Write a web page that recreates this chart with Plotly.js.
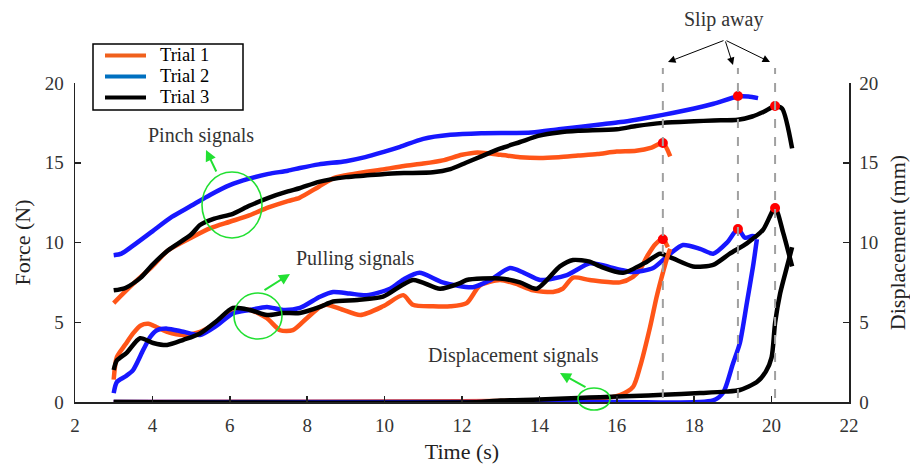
<!DOCTYPE html>
<html><head><meta charset="utf-8">
<script src="https://cdn.plot.ly/plotly-3.0.1.min.js"></script>
<style>html,body{margin:0;padding:0;background:#fff}#chart{width:910px;height:468px}</style>
</head><body><div id="chart"></div>
<script>
// ---------- data ----------
const trialNames = ['Trial 1', 'Trial 2', 'Trial 3'];

// Pinch force (N)
const pinchT1 = [3, 3.5, 4, 4.4, 5, 5.5, 6, 6.5, 7, 7.5, 7.8, 8.3, 8.7, 9.2, 10, 10.5, 11, 11.5, 12, 12.4, 13, 13.5, 14, 14.5, 15, 15.5, 16, 16.5, 16.9, 17.19, 17.38];
const pinchF1 = [6.2, 7.4, 8.5, 9.5, 10.3, 10.9, 11.3, 11.7, 12.2, 12.6, 12.8, 13.5, 14.05, 14.3, 14.6, 14.8, 14.95, 15.15, 15.5, 15.65, 15.5, 15.35, 15.3, 15.35, 15.45, 15.55, 15.7, 15.75, 15.95, 16.24, 15.4];
const pinchT2 = [3, 3.2, 3.5, 4, 4.5, 5, 5.5, 6, 6.5, 7, 7.5, 7.81, 8.3, 9, 9.5, 10, 10.4, 11, 11.7, 12.5, 13.8, 14.5, 15.57, 16.1, 16.5, 17.19, 18, 18.5, 19.13, 19.4, 19.65];
const pinchF2 = [9.2, 9.3, 9.8, 10.7, 11.6, 12.3, 13.0, 13.6, 14.0, 14.3, 14.5, 14.67, 14.9, 15.1, 15.35, 15.7, 16.0, 16.5, 16.75, 16.85, 16.9, 17.1, 17.4, 17.55, 17.7, 18.0, 18.4, 18.7, 19.15, 19.15, 19.05];
const pinchT3 = [3, 3.3, 3.7, 4, 4.4, 5, 5.23, 5.6, 6.08, 6.5, 7, 7.5, 7.8, 8.3, 9, 9.5, 10, 10.5, 11.25, 11.7, 12.1, 12.5, 13, 13.5, 14, 14.5, 15, 16, 16.5, 17.19, 18, 18.5, 19.13, 19.5, 19.8, 20.09, 20.27, 20.53];
const pinchF3 = [7.0, 7.15, 7.8, 8.6, 9.5, 10.5, 11.1, 11.5, 11.8, 12.3, 12.8, 13.2, 13.4, 13.8, 14.1, 14.2, 14.3, 14.35, 14.4, 14.6, 15.0, 15.4, 15.9, 16.3, 16.7, 16.9, 17.0, 17.1, 17.3, 17.5, 17.6, 17.65, 17.7, 17.9, 18.2, 18.56, 18.4, 15.9];

// Pulling force (N)
const pullT1 = [3.0, 3.08, 3.3, 3.5, 3.7, 3.9, 4.1, 4.38, 4.8, 5.23, 5.67, 6.08, 6.52, 6.96, 7.3, 7.63, 7.99, 8.33, 8.5, 8.9, 9.37, 9.96, 10.48, 10.73, 11.25, 11.7, 12.12, 12.46, 12.98, 13.4, 13.84, 14.35, 14.6, 14.87, 15.3, 16.08, 16.42, 16.6, 16.8, 17.0, 17.19, 17.32];
const pullF1 = [1.4, 2.8, 3.6, 4.3, 4.8, 4.9, 4.7, 4.4, 4.2, 4.4, 4.95, 5.6, 5.77, 5.25, 4.5, 4.5, 5.25, 5.96, 6.1, 5.8, 5.45, 6.0, 6.7, 6.1, 6.0, 6.0, 6.2, 7.3, 7.65, 7.4, 7.0, 6.9, 7.1, 7.8, 7.65, 7.5, 7.85, 8.3, 9.2, 9.9, 10.2, 9.7];
const pullT2 = [3.0, 3.08, 3.3, 3.5, 3.76, 3.95, 4.12, 4.38, 4.8, 5.23, 5.67, 6.08, 6.52, 6.96, 7.38, 7.81, 8.33, 8.67, 9.1, 9.54, 10.14, 10.5, 10.9, 11.5, 12.28, 12.7, 13.24, 13.6, 14.02, 14.71, 15.3, 15.57, 16.08, 16.42, 16.94, 17.38, 17.71, 18.15, 18.49, 18.85, 19.13, 19.31, 19.5, 19.62];
const pullF2 = [0.56, 1.25, 1.6, 2.0, 3.25, 4.1, 4.5, 4.6, 4.4, 4.2, 4.8, 5.55, 5.77, 5.96, 5.77, 5.9, 6.6, 6.9, 6.8, 6.7, 7.1, 7.7, 8.1, 7.5, 7.2, 7.6, 8.4, 8.1, 7.65, 7.96, 8.7, 8.6, 8.3, 8.15, 8.4, 9.3, 9.84, 9.6, 9.3, 10.0, 10.85, 10.3, 10.4, 10.36];
const pullT3 = [3.0, 3.08, 3.34, 3.68, 4.02, 4.38, 4.8, 5.23, 5.67, 6.08, 6.52, 6.96, 7.38, 7.81, 8.33, 8.67, 9.3, 9.96, 10.73, 11.43, 11.95, 12.12, 12.98, 13.5, 13.93, 14.53, 14.87, 15.3, 15.57, 16.16, 16.78, 17.12, 17.45, 17.97, 18.49, 18.92, 19.36, 19.78, 20.09, 20.3, 20.53];
const pullF3 = [2.0, 2.6, 3.1, 4.0, 3.7, 3.57, 3.9, 4.3, 5.1, 5.9, 5.77, 5.45, 5.58, 5.58, 5.96, 6.3, 6.4, 6.6, 7.65, 7.1, 7.45, 7.65, 7.75, 7.5, 7.1, 8.5, 8.9, 8.8, 8.5, 8.1, 8.8, 9.3, 9.0, 8.5, 8.6, 9.3, 9.95, 10.8, 12.16, 10.6, 8.5];

// Displacement (mm)
const dispT1 = [3, 8, 12, 14, 15, 15.57, 16.08, 16.42, 16.6, 16.86, 17.03, 17.19, 17.32, 17.38];
const dispD1 = [0, 0.02, 0.05, 0.1, 0.15, 0.2, 0.44, 0.95, 2.2, 4.7, 6.6, 8.1, 9.2, 9.6];
const dispT2 = [3, 10, 16, 18.49, 18.75, 19.0, 19.18, 19.36, 19.52, 19.62];
const dispD2 = [0, 0, 0, 0.1, 0.6, 2.4, 3.7, 6.2, 8.5, 10.2];
const dispT3 = [3, 12.5, 13, 14, 15, 15.57, 16.42, 17.2, 18.15, 18.8, 19.18, 19.62, 19.85, 20.0, 20.09, 20.22, 20.4, 20.53];
const dispD3 = [0, 0, 0.1, 0.15, 0.25, 0.3, 0.38, 0.45, 0.56, 0.65, 0.75, 1.25, 1.9, 2.8, 4.95, 6.8, 8.5, 9.7];

// Slip-away moments and peaks
const slipT = [17.19, 19.13, 20.09];
const pinchPeak = [16.24, 19.18, 18.56];
const pullPeak = [10.2, 10.85, 12.16];

const xTicks = [2, 4, 6, 8, 10, 12, 14, 16, 18, 20, 22];
const yTicks = [0, 5, 10, 15, 20];

// ---------- styling ----------
const lineCol = ['#FF5518', '#1717FF', '#000000'];
const legendCol = ['#F0601C', '#0070C0', '#000000'];
const green = '#22E032';
const FONT = 'Liberation Serif';
const L = 75, R = 849, T = 83, B = 402;
const px = v => (v - L) / (R - L);
const py = v => (B - v) / (B - T);

function line(x, y, c, axis) {
  return {x: x, y: y, type: 'scatter', mode: 'lines', yaxis: axis || 'y',
    line: {color: c, width: 4.5, shape: 'spline', smoothing: 0.7}, showlegend: false, hoverinfo: 'skip'};
}

const traces = [
  line(pinchT1, pinchF1, lineCol[0]), line(pinchT2, pinchF2, lineCol[1]), line(pinchT3, pinchF3, lineCol[2]),
  line(pullT1, pullF1, lineCol[0]), line(pullT2, pullF2, lineCol[1]), line(pullT3, pullF3, lineCol[2]),
  line(dispT1, dispD1, lineCol[0], 'y2'), line(dispT2, dispD2, lineCol[1], 'y2'), line(dispT3, dispD3, lineCol[2], 'y2'),
  {x: slipT, y: pinchPeak, type: 'scatter', mode: 'markers', marker: {color: '#FF0000', size: 10}, showlegend: false, cliponaxis: false},
  {x: slipT, y: pullPeak, type: 'scatter', mode: 'markers', marker: {color: '#FF0000', size: 10}, showlegend: false, cliponaxis: false}
];

const shapes = [];
slipT.forEach(t => shapes.push({type: 'line', xref: 'x', yref: 'paper', x0: t, x1: t, y0: py(398), y1: py(68),
  line: {color: '#A0A0A0', width: 2, dash: 'dash'}, layer: 'above'}));
// green ellipses
[[232, 205, 30, 33], [258, 316, 24, 23], [594, 399, 16, 11]].forEach(e => shapes.push({type: 'circle', xref: 'paper', yref: 'paper',
  x0: px(e[0] - e[2]), x1: px(e[0] + e[2]), y0: py(e[1] + e[3]), y1: py(e[1] - e[3]), line: {color: green, width: 1.6}, layer: 'above'}));
// legend box
shapes.push({type: 'rect', xref: 'paper', yref: 'paper', x0: px(93), x1: px(243), y0: py(110), y1: py(44),
  line: {color: '#000', width: 1.5}, fillcolor: '#fff', layer: 'above'});
const legRows = [55.5, 76.5, 97.5];
legRows.forEach((r, i) => shapes.push({type: 'line', xref: 'paper', yref: 'paper', x0: px(105), x1: px(146), y0: py(r), y1: py(r),
  line: {color: legendCol[i], width: 4}, layer: 'above'}));

const annotations = [];
legRows.forEach((r, i) => annotations.push({xref: 'paper', yref: 'paper', x: px(158), y: py(r), xanchor: 'left', yanchor: 'middle',
  text: trialNames[i], showarrow: false, font: {family: FONT, size: 18.5, color: '#000'}}));
const txt = (s, x, y) => ({xref: 'paper', yref: 'paper', x: px(x), y: py(y), text: s, showarrow: false,
  xanchor: 'center', yanchor: 'middle', font: {family: FONT, size: 20, color: '#333'}});
annotations.push(txt('Pinch signals', 201, 135));
annotations.push(txt('Pulling signals', 355, 258));
annotations.push(txt('Displacement signals', 513, 355));
annotations.push(txt('Slip away', 723, 19));
// arrows: [tipX, tipY, tailX, tailY, colour]
[[206, 150, 217, 173, green], [290, 274, 263, 291, green], [560, 373, 587, 388, green],
 [668, 62, 725, 40, '#000'], [733, 65, 725, 40, '#000'], [770, 62, 725, 40, '#000']].forEach(a => annotations.push({
  xref: 'paper', yref: 'paper', x: px(a[0]), y: py(a[1]), ax: a[2] - a[0], ay: a[3] - a[1], text: '', showarrow: true,
  arrowhead: 2, arrowsize: a[4] === green ? 1.1 : 1.5, arrowwidth: a[4] === green ? 2 : 1, arrowcolor: a[4]}));

const axBase = {showgrid: false, zeroline: false, showline: true, linecolor: '#222', linewidth: 1.5,
  ticks: 'inside', ticklen: 6, tickwidth: 1.5, tickcolor: '#222', tickfont: {family: FONT, size: 19, color: '#333'}, automargin: false};

const layout = {
  width: 910, height: 468, margin: {l: L, r: 910 - R, t: T, b: 468 - B},
  paper_bgcolor: '#fff', plot_bgcolor: '#fff', showlegend: false,
  font: {family: FONT},
  xaxis: Object.assign({}, axBase, {range: [2, 22], tickvals: xTicks, ticklabelstandoff: 6,
    title: {text: 'Time (s)', font: {family: FONT, size: 22, color: '#222'}, standoff: 8}}),
  yaxis: Object.assign({}, axBase, {range: [0, 20], tickvals: yTicks, ticklabelstandoff: 6,
    title: {text: 'Force (N)', font: {family: FONT, size: 22, color: '#222'}, standoff: 8}}),
  yaxis2: Object.assign({}, axBase, {range: [0, 20], tickvals: yTicks, overlaying: 'y', side: 'right', ticklabelstandoff: 5,
    title: {text: 'Displacement (mm)', font: {family: FONT, size: 22, color: '#222'}, standoff: 12}}),
  shapes: shapes, annotations: annotations
};

Plotly.newPlot('chart', traces, layout, {displayModeBar: false, staticPlot: true});
</script></body></html>
